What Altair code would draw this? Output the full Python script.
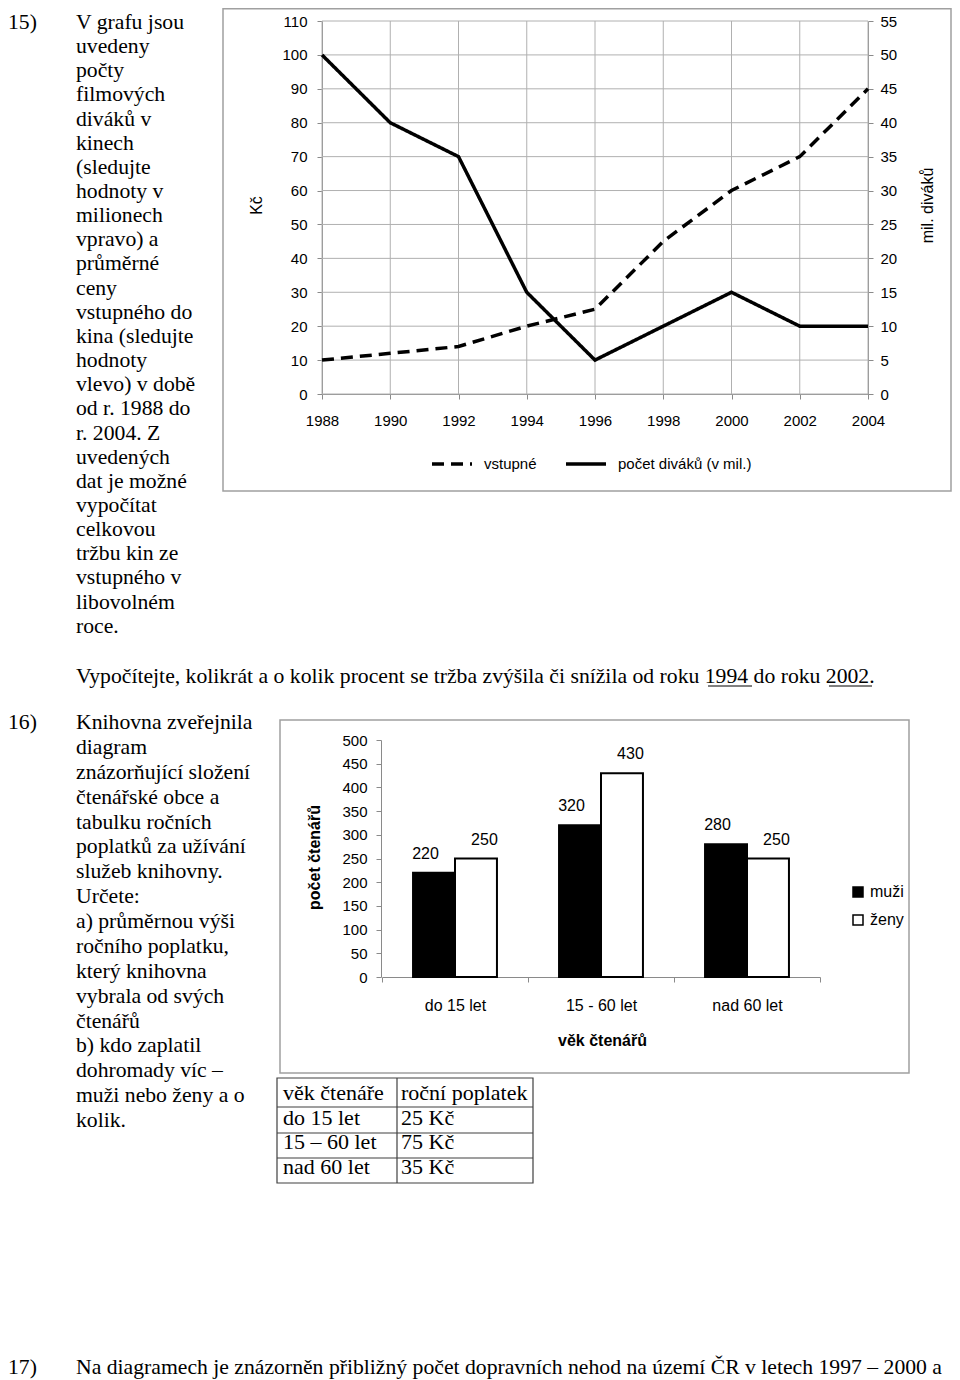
import altair as alt
import pandas as pd

# ---------------- data ----------------
years = [1988, 1990, 1992, 1994, 1996, 1998, 2000, 2002, 2004]
vstupne = [10, 12, 14, 20, 25, 45, 60, 70, 90]      # Kč (left axis)
divaci = [50, 40, 35, 15, 5, 10, 15, 10, 10]         # mil. diváků (right axis)
line_series = ["vstupné", "počet diváků (v mil.)"]
kc_ticks = [0, 10, 20, 30, 40, 50, 60, 70, 80, 90, 100, 110]
mil_ticks = [0, 5, 10, 15, 20, 25, 30, 35, 40, 45, 50, 55]

age_groups = ["do 15 let", "15 - 60 let", "nad 60 let"]
sexes = ["muži", "ženy"]
muzi = [220, 320, 280]
zeny = [250, 430, 250]
count_ticks = [0, 50, 100, 150, 200, 250, 300, 350, 400, 450, 500]

table_header = ["věk čtenáře", "roční poplatek"]
table_ages = ["do 15 let", "15 – 60 let", "nad 60 let"]
table_fees = ["25 Kč", "75 Kč", "35 Kč"]

text15 = ["V grafu jsou", "uvedeny", "počty", "filmových", "diváků v", "kinech",
          "(sledujte", "hodnoty v", "milionech", "vpravo) a", "průměrné", "ceny",
          "vstupného do", "kina (sledujte", "hodnoty", "vlevo) v době", "od r. 1988 do",
          "r. 2004. Z", "uvedených", "dat je možné", "vypočítat", "celkovou",
          "tržbu kin ze", "vstupného v", "libovolném", "roce."]
question15 = "Vypočítejte, kolikrát a o kolik procent se tržba zvýšila či snížila od roku 1994 do roku 2002."
text16 = ["Knihovna zveřejnila", "diagram", "znázorňující složení", "čtenářské obce a",
          "tabulku ročních", "poplatků za užívání", "služeb knihovny.", "Určete:",
          "a) průměrnou výši", "ročního poplatku,", "který knihovna", "vybrala od svých",
          "čtenářů", "b) kdo zaplatil", "dohromady víc –", "muži nebo ženy a o", "kolik."]
text17 = "Na diagramech je znázorněn přibližný počet dopravních nehod na území ČR v letech 1997 – 2000 a"

# ---------------- layout ----------------
W, H = 944, 1364
SERIF = "Liberation Serif"
SANS = "Liberation Sans"
GRID = "#b0b0b0"
AXC = "#8a8a8a"
BOX = "#a0a0a0"
FS = 21.7

one = pd.DataFrame({"k": [0]})


def txt(content, x, y, size=FS, lh=None, font=SERIF, align="left", baseline="alphabetic"):
    kw = dict(align=align, baseline=baseline, font=font, fontSize=size, color="black")
    if lh is not None:
        kw["lineHeight"] = lh
    return alt.Chart(one).mark_text(**kw).encode(
        x=alt.value(x), y=alt.value(y), text=alt.value(content))


def box(x0, y0, x1, y1, color=BOX, sw=1.5):
    return alt.Chart(one).mark_rect(fillOpacity=0, stroke=color, strokeWidth=sw).encode(
        x=alt.value(x0), x2=alt.value(x1), y=alt.value(y0), y2=alt.value(y1))


def hline(x0, x1, y, color="black", sw=1.0):
    return alt.Chart(one).mark_rule(color=color, strokeWidth=sw).encode(
        x=alt.value(x0), x2=alt.value(x1), y=alt.value(y))


def vline(x, y0, y1, color="black", sw=1.0):
    return alt.Chart(one).mark_rule(color=color, strokeWidth=sw).encode(
        x=alt.value(x), y=alt.value(y0), y2=alt.value(y1))


axis_common = dict(labelFont=SANS, labelColor="black", domainColor=AXC, tickColor=AXC,
                   tickSize=5, grid=False, domainWidth=1, tickWidth=1, labelOverlap=False)

# ---------------- line chart (15) ----------------
LX0, LX1 = 314, 860
LY0, LY1 = 386, 13


def xs_year():
    return alt.Scale(domain=[1988, 2004], range=[LX0, LX1], nice=False, zero=False)


def ys_kc():
    return alt.Scale(domain=[0, 110], range=[LY0, LY1], nice=False, zero=False)


def ys_mil():
    return alt.Scale(domain=[0, 55], range=[LY0, LY1], nice=False, zero=False)


grid_v = alt.Chart(pd.DataFrame({"rok": years})).mark_rule(color=GRID, strokeWidth=1).encode(
    x=alt.X("rok:Q", scale=xs_year(), axis=None),
    y=alt.YDatum(0, scale=ys_kc(), axis=None),
    y2=alt.Y2Datum(110),
)
grid_h = alt.Chart(pd.DataFrame({"kc": kc_ticks})).mark_rule(color=GRID, strokeWidth=1).encode(
    y=alt.Y("kc:Q", scale=ys_kc(), axis=None),
    x=alt.XDatum(1988, scale=xs_year(), axis=None),
    x2=alt.X2Datum(2004),
)

dash_scale = alt.Scale(domain=line_series, range=[[12, 7], [1, 0]])
line_legend = alt.Legend(orient="none", legendX=422, legendY=434, direction="horizontal",
                         title=None, symbolType="stroke", symbolSize=1600,
                         symbolStrokeWidth=3.5, symbolStrokeColor="black",
                         labelFont=SANS, labelFontSize=15, labelColor="black",
                         labelOffset=10, columnPadding=22, padding=0)

df_v = pd.DataFrame({"rok": years, "hodnota": vstupne, "rada": line_series[0]})
df_d = pd.DataFrame({"rok": years, "hodnota": divaci, "rada": line_series[1]})

line_v = alt.Chart(df_v).mark_line(color="black", strokeWidth=3.5).encode(
    x=alt.X("rok:Q", scale=xs_year(),
            axis=alt.Axis(orient="bottom", offset=LY0 - H, values=years, format="d",
                          labelFontSize=15, labelPadding=14, labelFlush=False, title=None,
                          **axis_common)),
    y=alt.Y("hodnota:Q", scale=ys_kc(),
            axis=alt.Axis(orient="left", offset=-LX0, values=kc_ticks, labelFontSize=15,
                          labelPadding=10, title="Kč", titleFont=SANS, titleFontSize=16,
                          titleFontWeight="normal", titleColor="black", titleAngle=270,
                          titleX=248 - LX0, titleY=197, titleAlign="center",
                          titleBaseline="middle", **axis_common)),
    strokeDash=alt.StrokeDash("rada:N", scale=dash_scale, legend=line_legend),
)
line_d = alt.Chart(df_d).mark_line(color="black", strokeWidth=3.5).encode(
    x=alt.X("rok:Q", scale=xs_year(), axis=None),
    y=alt.Y("hodnota:Q", scale=ys_mil(),
            axis=alt.Axis(orient="right", offset=LX1 - W, values=mil_ticks, labelFontSize=15,
                          labelPadding=7, title="mil. diváků", titleFont=SANS, titleFontSize=16,
                          titleFontWeight="normal", titleColor="black", titleAngle=270,
                          titleX=919 - LX1, titleY=197, titleAlign="center",
                          titleBaseline="middle", **axis_common)),
    strokeDash=alt.StrokeDash("rada:N", scale=dash_scale, legend=line_legend),
)

# ---------------- bar chart (16) ----------------
BX0, BX1 = 374, 812
BY0, BY1 = 969, 732

bar_rows = []
for i, a in enumerate(age_groups):
    bar_rows.append({"vek": a, "pohlavi": sexes[0], "pocet": muzi[i]})
    bar_rows.append({"vek": a, "pohlavi": sexes[1], "pocet": zeny[i]})
df_bars = pd.DataFrame(bar_rows)


def xs_age():
    return alt.Scale(domain=age_groups, range=[BX0, BX1], paddingInner=0, paddingOuter=0)


def xo_sex():
    return alt.Scale(domain=sexes, paddingInner=0, paddingOuter=0.74)


def ys_cnt():
    return alt.Scale(domain=[0, 500], range=[BY0, BY1], nice=False, zero=False)


bar_legend = alt.Legend(orient="none", legendX=842, legendY=876, title=None,
                        symbolType="square", symbolSize=100, symbolStrokeColor="black",
                        symbolStrokeWidth=1.5, labelFont=SANS, labelFontSize=16,
                        labelColor="black", labelOffset=4, rowPadding=12, padding=0)

bars = alt.Chart(df_bars).mark_bar(stroke="black", strokeWidth=2).encode(
    x=alt.X("vek:N", scale=xs_age(), sort=age_groups,
            axis=alt.Axis(orient="bottom", offset=BY0 - H, labelAngle=0, tickBand="extent",
                          labelFontSize=16, labelPadding=15, title="věk čtenářů",
                          titleFont=SANS, titleFontSize=16, titleFontWeight="bold",
                          titleColor="black", titleX=594, titleY=63,
                          titleAlign="center", titleBaseline="middle", **axis_common)),
    xOffset=alt.XOffset("pohlavi:N", scale=xo_sex(), sort=sexes),
    y=alt.Y("pocet:Q", scale=ys_cnt(),
            axis=alt.Axis(orient="left", offset=-(BX0 - 1), values=count_ticks,
                          labelFontSize=15, labelPadding=9, title="počet čtenářů",
                          titleFont=SANS, titleFontSize=16, titleFontWeight="bold",
                          titleColor="black", titleAngle=270, titleX=306 - (BX0 - 1),
                          titleY=849, titleAlign="center", titleBaseline="middle",
                          **axis_common)),
    fill=alt.Fill("pohlavi:N", scale=alt.Scale(domain=sexes, range=["#000000", "#ffffff"]),
                  legend=bar_legend),
)
bar_labels = alt.Chart(df_bars).mark_text(font=SANS, fontSize=16, baseline="middle",
                                          dy=-19, color="black").encode(
    x=alt.X("vek:N", scale=xs_age(), sort=age_groups, axis=None),
    xOffset=alt.XOffset("pohlavi:N", scale=xo_sex(), sort=sexes),
    y=alt.Y("pocet:Q", scale=ys_cnt(), axis=None),
    text=alt.Text("pocet:Q"),
)

# ---------------- table ----------------
cells = [{"r": 0, "c": 0, "t": table_header[0]}, {"r": 0, "c": 1, "t": table_header[1]}]
for i in range(len(table_ages)):
    cells.append({"r": i + 1, "c": 0, "t": table_ages[i]})
    cells.append({"r": i + 1, "c": 1, "t": table_fees[i]})
df_tbl = pd.DataFrame(cells)

table_text = alt.Chart(df_tbl).mark_text(align="left", baseline="alphabetic", font=SERIF,
                                         fontSize=22, color="black").encode(
    x=alt.X("c:O", scale=alt.Scale(type="point", domain=[0, 1], range=[275, 393], padding=0),
            axis=None),
    y=alt.Y("r:O", scale=alt.Scale(type="point", domain=[0, 1, 2, 3], range=[1092, 1166],
                                   padding=0), axis=None),
    text="t:N",
)

TC = "#404040"
layers = [
    # section 15
    txt("15)", 0, 21),
    txt(text15, 68, 21, lh=24.15),
    box(215, 0.75, 943, 483),
    grid_v, grid_h, line_v, line_d,
    txt(question15, 68, 675),
    hline(700, 744, 678, sw=1),
    hline(821, 864, 678, sw=1),
    # section 16
    txt("16)", 0, 721),
    txt(text16, 68, 721, lh=24.875),
    box(272, 712, 901, 1065),
    bars, bar_labels,
    box(269, 1070, 525, 1175, color=TC, sw=1.2),
    vline(389, 1070, 1175, color=TC, sw=1.2),
    hline(269, 525, 1099, color=TC, sw=1.2),
    hline(269, 525, 1125, color=TC, sw=1.2),
    hline(269, 525, 1150, color=TC, sw=1.2),
    table_text,
    # section 17
    txt("17)", 0, 1366),
    txt(text17, 68, 1366),
]

chart = (
    alt.layer(*layers)
    .resolve_scale(x="independent", y="independent", xOffset="independent")
    .properties(width=W, height=H, padding=0)
    .configure_view(stroke=None)
)

chart.save("out.html", embed_options={"renderer": "svg", "actions": False})
